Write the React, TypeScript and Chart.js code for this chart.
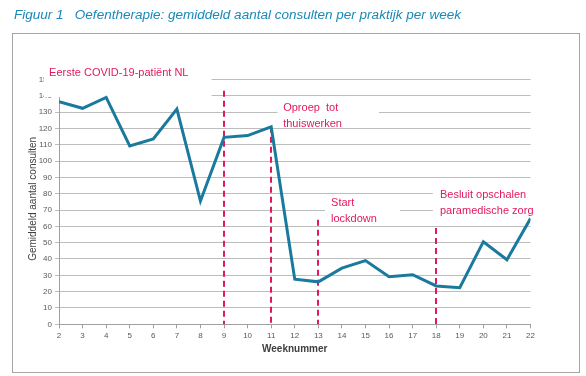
import React, { useEffect, useRef } from 'react';
import { Chart, registerables } from 'chart.js';

Chart.register(...registerables);

// ---- data ----
const weeks = [2, 3, 4, 5, 6, 7, 8, 9, 10, 11, 12, 13, 14, 15, 16, 17, 18, 19, 20, 21, 22];
const consults = [136.3, 132.3, 139, 109.2, 113.5, 131.8, 75.5, 114.5, 115.6, 121, 27.6, 26, 34.4, 39, 29.2, 30.4, 23.5, 22.4, 50.6, 39.5, 64.8];
const yMin = 0;
const yMax = 150;
const yStep = 10;
const eventWeeks = [9, 11, 13, 18];
const eventLineTops = [143, 121, 64, 59];
const eventLabels = [
  ['Eerste COVID-19-patiënt NL'],
  ['Oproep  tot', 'thuiswerken'],
  ['Start', 'lockdown'],
  ['Besluit opschalen', 'paramedische zorg'],
];
const titleText = 'Figuur 1   Oefentherapie: gemiddeld aantal consulten per praktijk per week';
const yTitle = 'Gemiddeld aantal consulten';
const xTitle = 'Weeknummer';

// ---- annotation layout (data coordinates) ----
const labelAnchors = [
  [1.58, 153.7],
  [11.51, 132.3],
  [13.54, 74.1],
  [18.16, 79.2],
];
const labelMaxWidths = [[143], [58, 62], [26, 50], [89, 97]];
const masks = [
  [1.36, 8.47, 139.2, 160],
  [11.27, 15.57, 120.8, 137.4],
  [13.28, 16.46, 61.4, 78.6],
  [17.86, 22.6, 65.1, 84.7],
];

const RED = '#e2185f';
const LINE = '#1a7a9e';
const FONT = "'Liberation Sans', Arial, sans-serif";

const overlay = {
  id: 'overlay',
  beforeDatasetsDraw(chart: any) {
    const { ctx, scales } = chart;
    const x = scales.x;
    const y = scales.y;
    ctx.save();
    ctx.fillStyle = '#ffffff';
    masks.forEach((m) => {
      const x0 = x.getPixelForValue(m[0]);
      const x1 = x.getPixelForValue(m[1]);
      const y0 = y.getPixelForValue(m[3]);
      const y1 = y.getPixelForValue(m[2]);
      ctx.fillRect(x0, y0, x1 - x0, y1 - y0);
    });
    ctx.strokeStyle = RED;
    ctx.lineWidth = 2;
    ctx.setLineDash([6, 4]);
    eventWeeks.forEach((w, i) => {
      const px = Math.round(x.getPixelForValue(w));
      ctx.beginPath();
      ctx.moveTo(px, y.getPixelForValue(eventLineTops[i]));
      ctx.lineTo(px, y.getPixelForValue(0));
      ctx.stroke();
    });
    ctx.restore();
  },
  afterDraw(chart: any) {
    const { ctx, scales, chartArea } = chart;
    const x = scales.x;
    const y = scales.y;
    ctx.save();
    // event labels
    ctx.fillStyle = RED;
    ctx.font = `11px ${FONT}`;
    ctx.textBaseline = 'middle';
    ctx.textAlign = 'left';
    eventLabels.forEach((lines, i) => {
      const lx = x.getPixelForValue(labelAnchors[i][0]);
      const ly = y.getPixelForValue(labelAnchors[i][1]);
      lines.forEach((t, j) => {
        const mw = labelMaxWidths[i][j] ?? 200;
        ctx.fillText(t, lx, ly + j * 15.5, mw);
      });
    });
    // axis titles
    ctx.fillStyle = '#404040';
    ctx.font = `10px ${FONT}`;
    ctx.textAlign = 'center';
    ctx.save();
    ctx.translate(33, (chartArea.top + chartArea.bottom) / 2 - 3);
    ctx.rotate(-Math.PI / 2);
    ctx.fillText(yTitle, 0, 0, 134);
    ctx.restore();
    ctx.font = `bold 10px ${FONT}`;
    ctx.fillText(xTitle, (chartArea.left + chartArea.right) / 2, 349.5);
    // figure title
    ctx.font = `italic 12px ${FONT}`;
    ctx.fillStyle = '#1a88b8';
    ctx.textAlign = 'left';
    const w = ctx.measureText(titleText).width;
    ctx.save();
    ctx.translate(14, 16);
    ctx.scale(447 / w, 1);
    ctx.fillText(titleText, 0, 0);
    ctx.restore();
    ctx.restore();
  },
};

export default function App() {
  const ref = useRef<HTMLCanvasElement>(null);
  useEffect(() => {
    if (!ref.current) return;
    const chart = new Chart(ref.current, {
      type: 'line',
      data: {
        datasets: [
          {
            data: weeks.map((w, i) => ({ x: w, y: consults[i] })),
            borderColor: LINE,
            borderWidth: 3,
            pointRadius: 0,
            tension: 0,
            fill: false,
          },
        ],
      },
      options: {
        responsive: false,
        animation: false,
        devicePixelRatio: 1,
        layout: { padding: { left: 0, right: 55.5, top: 79.4, bottom: 0 } },
        plugins: { legend: { display: false }, tooltip: { enabled: false }, title: { display: false } },
        scales: {
          x: {
            type: 'linear',
            min: weeks[0],
            max: weeks[weeks.length - 1],
            ticks: { stepSize: 1, color: '#595959', font: { size: 8, family: FONT }, padding: 3, maxRotation: 0, autoSkip: false },
            grid: { drawOnChartArea: false, drawTicks: true, tickLength: 4, color: '#a0a0a0' },
            border: { display: true, color: '#a0a0a0' },
            afterFit: (s: any) => { s.height = 51.7; },
          },
          y: {
            min: yMin,
            max: yMax,
            ticks: { stepSize: yStep, color: '#595959', font: { size: 8, family: FONT }, padding: 3 },
            grid: { color: '#bdbdbd', lineWidth: 1, tickLength: 4, drawTicks: true },
            border: { display: true, color: '#a0a0a0' },
            afterFit: (s: any) => { s.width = 59; },
          },
        },
      },
      plugins: [overlay],
    });
    return () => chart.destroy();
  }, []);
  return (
    <div style={{ position: 'absolute', left: 0, top: 0, width: 586, height: 376, background: '#fff' }}>
      <div style={{ position: 'absolute', left: 12, top: 33, width: 566, height: 338, border: '1px solid #a6a6a6' }} />
      <canvas ref={ref} width={586} height={376} style={{ position: 'absolute', left: 0, top: 0, width: 586, height: 376 }} />
    </div>
  );
}
